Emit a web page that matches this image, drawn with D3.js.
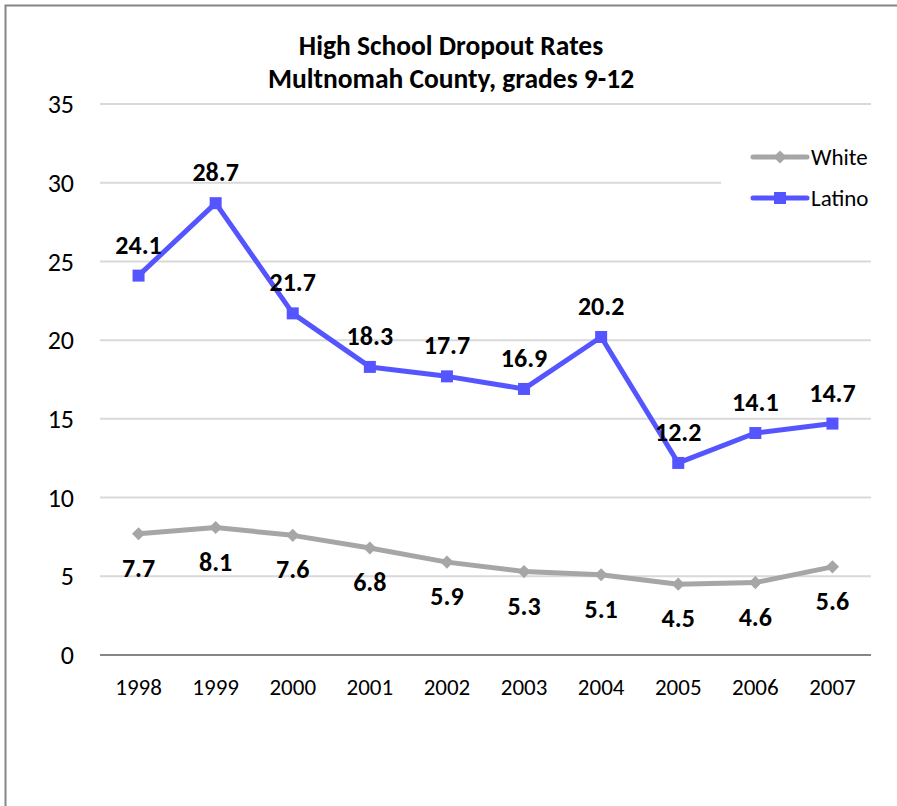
<!DOCTYPE html>
<html>
<head>
<meta charset="utf-8">
<script src="https://cdn.jsdelivr.net/npm/d3@7"></script>
<style>
  body { margin: 0; background: #fff; }
  text { font-family: Carlito, Calibri, Lato, "Open Sans", sans-serif; }
</style>
</head>
<body>
<svg id="chart"></svg>
<script>
// data
const years = ["1998", "1999", "2000", "2001", "2002", "2003", "2004", "2005", "2006", "2007"];
const white = [7.7, 8.1, 7.6, 6.8, 5.9, 5.3, 5.1, 4.5, 4.6, 5.6];
const latino = [24.1, 28.7, 21.7, 18.3, 17.7, 16.9, 20.2, 12.2, 14.1, 14.7];
const yTicks = [0, 5, 10, 15, 20, 25, 30, 35];
const titleLines = ["High School Dropout Rates", "Multnomah County, grades 9-12"];

const width = 897, height = 806;
const plot = { left: 100, right: 871, top: 104, bottom: 655 };

const svg = d3.select("#chart").attr("width", width).attr("height", height);

// outer frame (cut off at right and bottom)
svg.append("rect")
  .attr("x", 5.5).attr("y", 5.5)
  .attr("width", width + 20).attr("height", height + 20)
  .attr("fill", "#fff").attr("stroke", "#868686").attr("stroke-width", 2);

// scales
const x = d3.scaleBand().domain(years).range([plot.left, plot.right]);
const y = d3.scaleLinear().domain([0, 35]).range([plot.bottom, plot.top]);
const cx = d => x(d) + x.bandwidth() / 2;

// grid lines
svg.append("g")
  .selectAll("line")
  .data(yTicks.filter(t => t > 0))
  .join("line")
    .attr("x1", plot.left).attr("x2", plot.right)
    .attr("y1", d => y(d)).attr("y2", d => y(d))
    .attr("stroke", "#d9d9d9").attr("stroke-width", 2);

// x axis line
svg.append("line")
  .attr("x1", plot.left).attr("x2", plot.right)
  .attr("y1", y(0)).attr("y2", y(0))
  .attr("stroke", "#868686").attr("stroke-width", 2);

// y tick labels
svg.append("g")
  .selectAll("text")
  .data(yTicks)
  .join("text")
    .attr("x", 74)
    .attr("y", d => y(d))
    .attr("dy", "0.35em")
    .attr("text-anchor", "end")
    .attr("font-size", 26)
    .text(d => d);

// x tick labels
svg.append("g")
  .selectAll("text")
  .data(years)
  .join("text")
    .attr("x", d => cx(d))
    .attr("y", 687)
    .attr("dy", "0.35em")
    .attr("text-anchor", "middle")
    .attr("font-size", 23)
    .text(d => d);

// title
svg.append("g")
  .selectAll("text")
  .data(titleLines)
  .join("text")
    .attr("x", 451)
    .attr("y", (d, i) => 45 + i * 33)
    .attr("dy", "0.35em")
    .attr("text-anchor", "middle")
    .attr("font-size", 27.5)
    .attr("font-weight", "bold")
    .text(d => d);

const line = d3.line()
  .x((d, i) => cx(years[i]))
  .y(d => y(d));

// white series
const whiteColor = "#a6a6a6";
svg.append("path")
  .datum(white)
  .attr("d", line)
  .attr("fill", "none")
  .attr("stroke", whiteColor)
  .attr("stroke-width", 5)
  .attr("stroke-linejoin", "round");

const diamond = d3.symbol().type(d3.symbolDiamond2).size(110);
svg.append("g")
  .selectAll("path")
  .data(white)
  .join("path")
    .attr("d", diamond)
    .attr("transform", (d, i) => `translate(${cx(years[i])},${y(d)})`)
    .attr("fill", whiteColor);

svg.append("g")
  .selectAll("text")
  .data(white)
  .join("text")
    .attr("x", (d, i) => cx(years[i]))
    .attr("y", d => y(d) + 34)
    .attr("dy", "0.35em")
    .attr("text-anchor", "middle")
    .attr("font-size", 26)
    .attr("font-weight", "bold")
    .text(d => d.toFixed(1));

// latino series
const latinoColor = "#5555ff";
svg.append("path")
  .datum(latino)
  .attr("d", line)
  .attr("fill", "none")
  .attr("stroke", latinoColor)
  .attr("stroke-width", 5)
  .attr("stroke-linejoin", "round");

svg.append("g")
  .selectAll("rect")
  .data(latino)
  .join("rect")
    .attr("x", (d, i) => cx(years[i]) - 6)
    .attr("y", d => y(d) - 6)
    .attr("width", 12).attr("height", 12)
    .attr("fill", latinoColor);

svg.append("g")
  .selectAll("text")
  .data(latino)
  .join("text")
    .attr("x", (d, i) => cx(years[i]))
    .attr("y", d => y(d) - 31)
    .attr("dy", "0.35em")
    .attr("text-anchor", "middle")
    .attr("font-size", 26)
    .attr("font-weight", "bold")
    .text(d => d.toFixed(1));

// legend
const legend = svg.append("g");
legend.append("rect")
  .attr("x", 721).attr("y", 135)
  .attr("width", 160).attr("height", 85)
  .attr("fill", "#fff");

const legendItems = [
  { name: "White", color: whiteColor, shape: "diamond", y: 157 },
  { name: "Latino", color: latinoColor, shape: "square", y: 198 }
];
legendItems.forEach(it => {
  legend.append("line")
    .attr("x1", 753).attr("x2", 807)
    .attr("y1", it.y).attr("y2", it.y)
    .attr("stroke", it.color).attr("stroke-width", 5)
    .attr("stroke-linecap", "round");
  if (it.shape === "diamond") {
    legend.append("path")
      .attr("d", diamond)
      .attr("transform", `translate(780,${it.y})`)
      .attr("fill", it.color);
  } else {
    legend.append("rect")
      .attr("x", 774).attr("y", it.y - 6)
      .attr("width", 12).attr("height", 12)
      .attr("fill", it.color);
  }
  legend.append("text")
    .attr("x", 811).attr("y", it.y)
    .attr("dy", "0.35em")
    .attr("font-size", 23)
    .text(it.name);
});
</script>
</body>
</html>
